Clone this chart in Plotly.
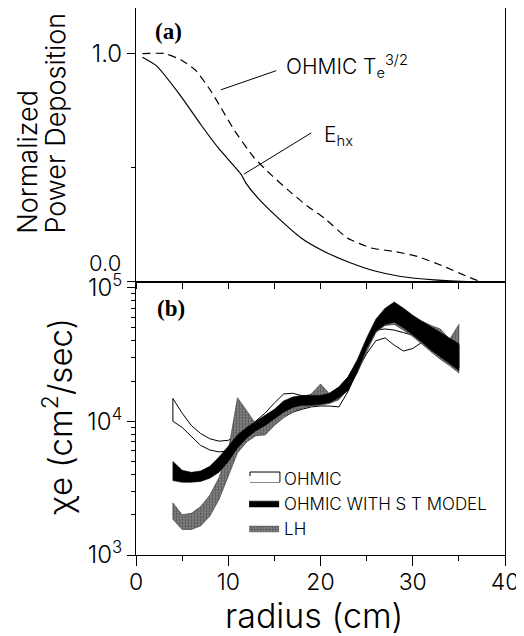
import plotly.graph_objects as go

# ---------------- Panel (a): normalized power deposition ----------------
r_ehx = [0.7, 2.2, 4.7, 7.0, 8.9, 11.4, 11.9, 13.2, 15.4, 17.9, 20.4, 23.3, 25.8, 28.7, 32.3, 35.9, 37.0]
p_ehx = [0.984, 0.947, 0.822, 0.69, 0.587, 0.47, 0.433, 0.367, 0.279, 0.191, 0.132, 0.081, 0.047, 0.022, 0.007, 0.0, 0.0]

r_ohm = [0.7, 3.1, 4.9, 6.5, 8.1, 9.2, 10.7, 12.8, 14.6, 16.4, 18.6, 20.4, 22.9, 25.5, 28.0, 30.5, 33.4, 35.9, 37.4, 39.2]
p_ohm = [1.0, 1.0, 0.972, 0.925, 0.837, 0.763, 0.661, 0.543, 0.47, 0.404, 0.33, 0.279, 0.191, 0.147, 0.132, 0.110, 0.066, 0.022, 0.0, 0.0]

# ---------------- Panel (b): chi_e bands ----------------
radius = [4, 5, 6, 7, 8, 9, 10, 11, 12, 13, 14, 15, 16, 17, 18, 19, 20,
          21, 22, 23, 24, 25, 26, 27, 28, 29, 30, 31, 32, 33, 34, 35]

ohmic_hi = [1.48e4, 1.15e4, 9.3e3, 8.1e3, 7.4e3, 7.1e3, 7.2e3, 7.9e3, 8.8e3, 1.0e4, 1.15e4, 1.37e4, 1.6e4, 1.62e4, 1.55e4, 1.55e4, 1.56e4,
            1.62e4, 1.8e4, 2.15e4, 2.8e4, 3.9e4, 4.8e4, 4.9e4, 4.8e4, 4.6e4, 4.4e4, 4.6e4, 4.6e4, 4.3e4, 4.0e4, 3.7e4]
ohmic_lo = [1.0e4, 9.0e3, 7.7e3, 6.6e3, 6.1e3, 5.9e3, 6.0e3, 6.5e3, 7.4e3, 8.2e3, 8.8e3, 9.8e3, 1.08e4, 1.17e4, 1.23e4, 1.28e4, 1.3e4,
            1.3e4, 1.28e4, 1.68e4, 2.4e4, 3.2e4, 4.0e4, 4.2e4, 3.7e4, 3.35e4, 3.5e4, 3.9e4, 3.5e4, 3.1e4, 2.8e4, 2.5e4]

st_hi = [5.0e3, 4.3e3, 4.15e3, 4.25e3, 4.6e3, 5.4e3, 6.5e3, 7.9e3, 9.0e3, 1.0e4, 1.1e4, 1.23e4, 1.42e4, 1.52e4, 1.56e4, 1.55e4, 1.56e4,
         1.62e4, 1.8e4, 2.15e4, 2.9e4, 4.2e4, 5.8e4, 7.0e4, 7.8e4, 7.0e4, 6.2e4, 5.6e4, 5.1e4, 4.6e4, 4.2e4, 3.8e4]
st_lo = [3.6e3, 3.5e3, 3.5e3, 3.55e3, 3.75e3, 4.15e3, 5.0e3, 6.3e3, 7.5e3, 8.5e3, 9.3e3, 1.04e4, 1.17e4, 1.27e4, 1.32e4, 1.32e4, 1.34e4,
         1.38e4, 1.5e4, 1.7e4, 2.35e4, 3.5e4, 4.7e4, 5.3e4, 5.5e4, 5.0e4, 4.4e4, 3.9e4, 3.4e4, 3.0e4, 2.7e4, 2.4e4]

lh_hi = [2.45e3, 2.0e3, 2.05e3, 2.3e3, 2.8e3, 3.8e3, 6.0e3, 1.5e4, 1.2e4, 9.5e3, 1.05e4, 1.22e4, 1.38e4, 1.5e4, 1.52e4, 1.6e4, 1.9e4,
         1.6e4, 1.65e4, 2.1e4, 2.7e4, 3.9e4, 5.5e4, 6.5e4, 6.8e4, 6.2e4, 5.6e4, 5.6e4, 5.2e4, 4.9e4, 4.1e4, 5.3e4]
lh_lo = [1.85e3, 1.55e3, 1.55e3, 1.65e3, 1.95e3, 2.6e3, 3.9e3, 5.8e3, 7.0e3, 7.8e3, 7.9e3, 9.3e3, 1.06e4, 1.17e4, 1.25e4, 1.3e4, 1.32e4,
         1.36e4, 1.45e4, 1.75e4, 2.3e4, 3.3e4, 4.6e4, 5.2e4, 5.3e4, 4.8e4, 4.3e4, 3.8e4, 3.3e4, 2.9e4, 2.6e4, 2.3e4]

FONT = "Inter, DejaVu Sans, sans-serif"
W = 300


def fnt(size, family=FONT, weight=W):
    return dict(family=family, size=size, color="black", weight=weight)


def band(x, hi, lo):
    return list(x) + list(x)[::-1] + [x[0]], list(hi) + list(lo)[::-1] + [hi[0]]


fig = go.Figure()

# panel (a)
fig.add_trace(go.Scatter(x=r_ehx, y=p_ehx, mode="lines", line=dict(color="black", width=1.2, shape="spline", smoothing=0.5),
                         showlegend=False, xaxis="x2", yaxis="y2"))
fig.add_trace(go.Scatter(x=r_ohm, y=p_ohm, mode="lines",
                         line=dict(color="black", width=1.2, dash="8px,5px", shape="spline", smoothing=0.5),
                         showlegend=False, xaxis="x2", yaxis="y2"))

# panel (b)
bx, by = band(radius, ohmic_hi, ohmic_lo)
fig.add_trace(go.Scatter(x=bx, y=by, fill="toself", fillcolor="white", mode="lines",
                         line=dict(color="white", width=0), name="OHMIC", legendrank=1,
                         xaxis="x", yaxis="y"))
fig.add_trace(go.Scatter(x=bx, y=by, mode="lines", line=dict(color="black", width=1), showlegend=False,
                         xaxis="x", yaxis="y"))
bx, by = band(radius, lh_hi, lh_lo)
fig.add_trace(go.Scatter(x=bx, y=by, fill="toself", fillcolor="#7a7a7a", mode="lines",
                         fillpattern=dict(shape=".", fgcolor="#1e1e1e", bgcolor="#8e8e8e", size=3, solidity=0.5),
                         line=dict(color="#333", width=0.6), name="LH", legendrank=3,
                         xaxis="x", yaxis="y"))
bx, by = band(radius, st_hi, st_lo)
fig.add_trace(go.Scatter(x=bx, y=by, fill="toself", fillcolor="black", mode="lines",
                         line=dict(color="black", width=0.6), name="OHMIC WITH S T MODEL", legendrank=2,
                         xaxis="x", yaxis="y"))

axis_common = dict(showline=True, linecolor="black", linewidth=1, mirror=True, showgrid=False, zeroline=False,
                   tickcolor="black", tickfont=fnt(24))

# the page body adds an 8 px offset, so the figure is 8 px smaller and margins compensate
fig.update_layout(
    width=516, height=628,
    margin=dict(l=128, r=19, t=0, b=81, autoexpand=False),
    paper_bgcolor="white", plot_bgcolor="white",
    font=fnt(17),
    xaxis=dict(**{**axis_common, "tickfont": fnt(23)}, domain=[0, 1], anchor="y", range=[0, 40], tickmode="linear",
               tick0=0, dtick=10, ticks="outside", ticklen=10, ticklabelstandoff=-4,
               minor=dict(dtick=5, ticks="outside", ticklen=5, tickcolor="black")),
    yaxis=dict(**axis_common, domain=[0, 0.5], anchor="x", type="log", range=[3, 5.045],
               tickvals=[1e3, 1e4, 1e5], ticktext=["10<sup>3</sup>", "10<sup>4</sup>", "10<sup>5</sup>"],
               ticks="outside", ticklen=8,
               minor=dict(tickvals=[m * 10 ** e for e in (3, 4) for m in range(2, 10)], ticks="outside",
                          ticklen=4, tickcolor="black")),
    xaxis2=dict(**axis_common, domain=[0, 1], anchor="y2", range=[0, 40], tickmode="linear", tick0=0, dtick=5,
                ticks="outside", ticklen=6, showticklabels=False),
    yaxis2=dict(**axis_common, domain=[0.5, 1], anchor="x2", range=[0, 1.2],
                tickvals=[0, 1.0], ticktext=["", "1.0"], ticks="outside", ticklen=8,
                minor=dict(tickvals=[0.5], ticks="outside", ticklen=4, tickcolor="black")),
    legend=dict(x=0.293, y=0.1728, xanchor="left", yanchor="top", bgcolor="rgba(0,0,0,0)",
                font=fnt(17), tracegroupgap=0, itemwidth=30),
    annotations=[
        dict(text="radius (cm)", xref="paper", yref="paper", x=0.482, y=-0.152,
             xanchor="center", yanchor="bottom", showarrow=False, font=fnt(34)),
        dict(text="Normalized", xref="paper", yref="paper", x=-0.2935, y=0.5832,
             xanchor="center", yanchor="bottom", textangle=-90, showarrow=False, font=fnt(27)),
        dict(text="Power Deposition", xref="paper", yref="paper", x=-0.2195, y=0.5832,
             xanchor="center", yanchor="bottom", textangle=-90, showarrow=False, font=fnt(27)),
        dict(text="χe (cm<sup>2</sup>/sec)", xref="paper", yref="paper", x=-0.2100, y=0.254,
             xanchor="center", yanchor="middle", textangle=-90, showarrow=False, font=fnt(33)),
        dict(text="0.0", xref="paper", yref="y2", x=-0.035, y=0.08, xanchor="right", yanchor="middle",
             showarrow=False, font=fnt(22)),
        dict(text="<b>(a)</b>", xref="x2 domain", yref="y2 domain", x=0.089, y=0.915, xanchor="center",
             yanchor="middle", showarrow=False, font=fnt(23, "Liberation Serif", 700)),
        dict(text="<b>(b)</b>", xref="x domain", yref="y domain", x=0.095, y=0.90, xanchor="center",
             yanchor="middle", showarrow=False, font=fnt(23, "Liberation Serif", 700)),
        dict(text="OHMIC T<sub>e</sub><sup>3/2</sup>", xref="x2", yref="y2", x=16.0, y=0.945, xanchor="left",
             yanchor="middle", showarrow=False, font=fnt(21)),
        dict(text="E<sub>hx</sub>", xref="x2", yref="y2", x=20.2, y=0.64, xanchor="left",
             yanchor="middle", showarrow=False, font=fnt(21)),
    ],
    shapes=[
        dict(type="line", xref="x2", yref="y2", x0=9.2, y0=0.841, x1=15.2, y1=0.925, line=dict(color="black", width=1)),
        dict(type="line", xref="x2", yref="y2", x0=11.7, y0=0.471, x1=19.0, y1=0.652, line=dict(color="black", width=1)),
        # outline of the OHMIC legend swatch
        dict(type="rect", xref="paper", yref="paper", x0=0.309, x1=0.390, y0=0.1335, y1=0.1517,
             line=dict(color="black", width=1), fillcolor="rgba(0,0,0,0)"),
    ],
)

fig.write_html("out.html")
